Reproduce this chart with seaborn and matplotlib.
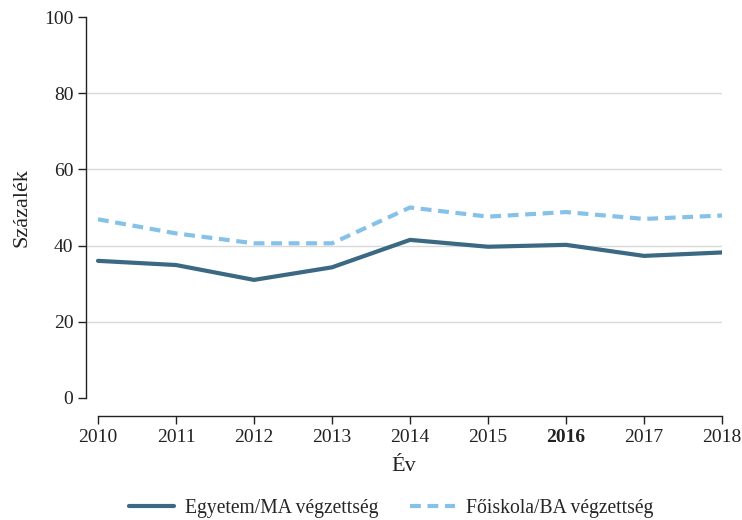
import matplotlib
matplotlib.use("Agg")
import matplotlib.pyplot as plt
import seaborn as sns
import pandas as pd
from matplotlib.lines import Line2D

years = [2010, 2011, 2012, 2013, 2014, 2015, 2016, 2017, 2018]
egyetem = [36.0, 34.9, 31.0, 34.3, 41.5, 39.7, 40.2, 37.3, 38.2]
foiskola = [46.9, 43.2, 40.6, 40.6, 50.0, 47.6, 48.8, 47.0, 47.9]
series_names = ["Egyetem/MA végzettség", "Főiskola/BA végzettség"]
y_ticks = [0, 20, 40, 60, 80, 100]
bold_year = 2016

df = pd.DataFrame({
    "Év": years * 2,
    "Százalék": egyetem + foiskola,
    "series": [series_names[0]] * len(years) + [series_names[1]] * len(years),
})

sns.set_style("white")
plt.rcParams["font.family"] = ["Liberation Serif", "DejaVu Serif"]

fig = plt.figure(figsize=(7.42, 5.2), dpi=100)
ax = fig.add_axes([86 / 742, 122 / 520, 636 / 742, 381 / 520])

palette = {series_names[0]: "#3b6883", series_names[1]: "#85c1e9"}
dash_pat = (2.6, 1.6)
sns.lineplot(data=df, x="Év", y="Százalék", hue="series", style="series",
             palette=palette, dashes={series_names[0]: "", series_names[1]: dash_pat},
             linewidth=3.0, ax=ax, legend=False)

ax.set_ylim(0, 100)
ax.set_xlim(2010 - 12 / 78, 2018)
ax.set_yticks(y_ticks)
ax.set_xticks(years)
ax.set_xticklabels([str(y) for y in years])

ax.grid(axis="y", color="#d9d9d9", linewidth=1.0)
ax.set_axisbelow(True)

for s in ["top", "right"]:
    ax.spines[s].set_visible(False)
for s in ["left", "bottom"]:
    ax.spines[s].set_color("#222222")
    ax.spines[s].set_linewidth(1.0)
ax.spines["bottom"].set_position(("outward", 13))
ax.spines["bottom"].set_bounds(2010, 2018)

ax.tick_params(axis="both", which="major", direction="out", length=6, width=1.0,
               color="#222222", labelsize=14, labelcolor="#222222", left=True, bottom=True)
ax.tick_params(axis="y", pad=3)
ax.tick_params(axis="x", pad=3)

ax.set_ylabel("Százalék", fontsize=16, color="#222222", labelpad=9)
ax.set_xlabel("Év", fontsize=16, color="#222222", labelpad=8)

handles = [Line2D([], [], color=palette[series_names[0]], linewidth=3.0),
           Line2D([], [], color=palette[series_names[1]], linewidth=3.0, dashes=dash_pat)]
fig.legend(handles, series_names, loc="center", bbox_to_anchor=(0.527, 0.023),
           ncol=2, frameon=False, fontsize=14.1, handlelength=2.3, columnspacing=1.6,
           handletextpad=0.56)

fig.canvas.draw()
for tick in ax.yaxis.get_major_ticks():
    if tick.get_loc() in (0, 100):
        tick.gridline.set_visible(False)
for tick in ax.xaxis.get_major_ticks():
    if tick.label1.get_text() == str(bold_year):
        tick.label1.set_fontweight("bold")

fig.savefig("out.png", dpi=100)
